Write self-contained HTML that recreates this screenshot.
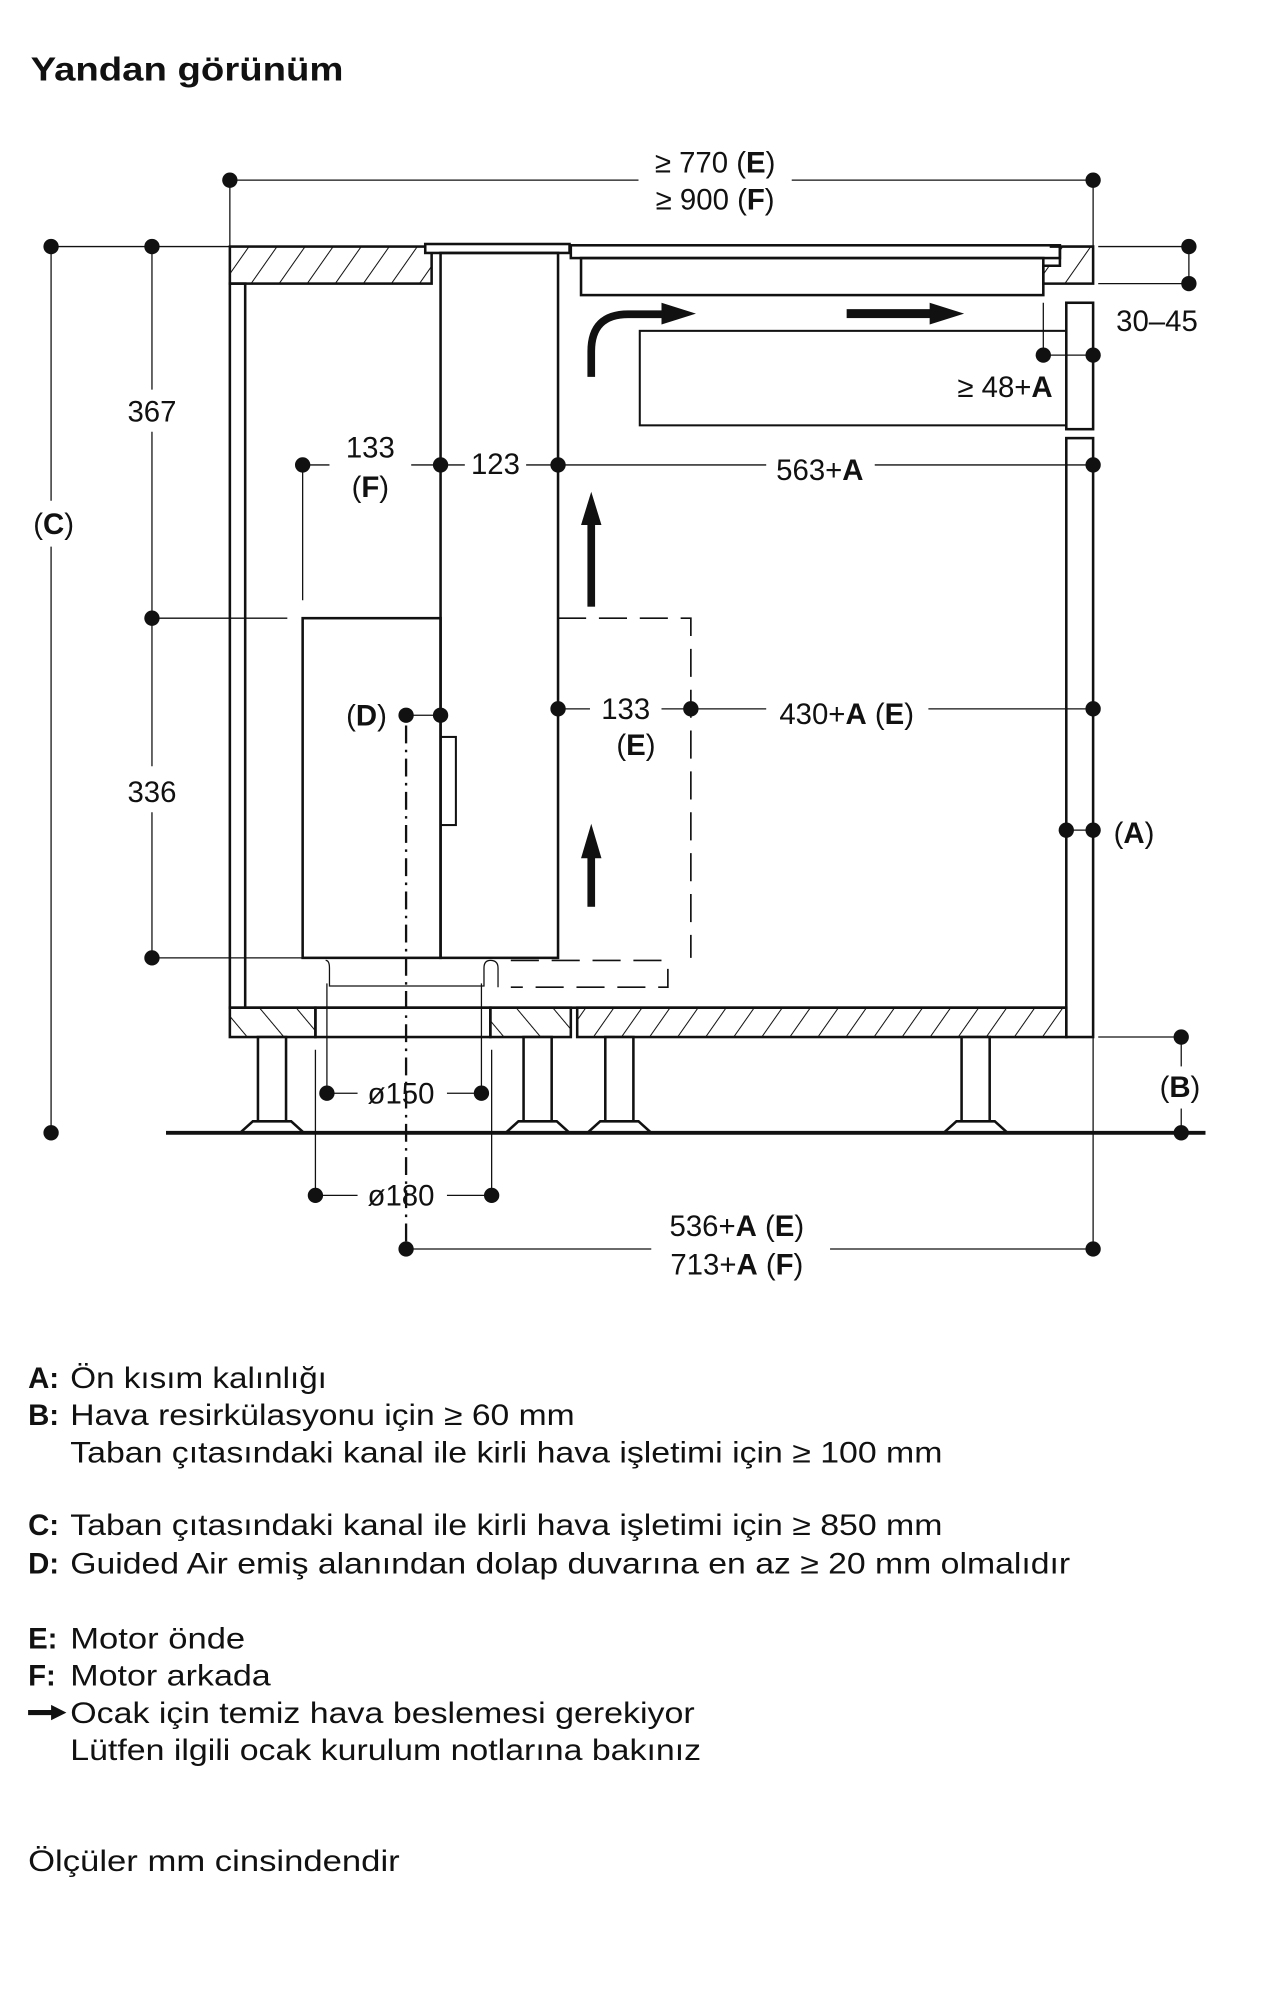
<!DOCTYPE html>
<html><head><meta charset="utf-8"><style>
html,body{margin:0;padding:0;background:#fff}
svg{display:block}
text{font-family:"Liberation Sans",sans-serif;fill:#111}
</style></head><body>
<svg width="1277" height="2000" viewBox="0 0 1000 1566" xmlns="http://www.w3.org/2000/svg">
<defs>
<pattern id="h1" patternUnits="userSpaceOnUse" width="18" height="18" patternTransform="rotate(35)"><line x1="0" y1="0" x2="0" y2="18" stroke="#111" stroke-width="1.6"/></pattern>
<pattern id="h2" patternUnits="userSpaceOnUse" width="22" height="22" patternTransform="rotate(-40)"><line x1="0" y1="0" x2="0" y2="22" stroke="#111" stroke-width="1.6"/></pattern>
</defs>
<text x="24" y="63" font-size="26" font-weight="bold" textLength="245" lengthAdjust="spacingAndGlyphs">Yandan görünüm</text>

<g stroke="#111" fill="none" stroke-width="1">
<!-- thin dimension lines -->
<line x1="180" y1="141" x2="500" y2="141"/><line x1="620" y1="141" x2="856" y2="141"/>
<line x1="180" y1="141" x2="180" y2="193"/><line x1="856" y1="141" x2="856" y2="193"/>
<line x1="40" y1="193" x2="180" y2="193"/><line x1="40" y1="193" x2="40" y2="392"/><line x1="40" y1="428" x2="40" y2="887"/>
<line x1="119" y1="193" x2="119" y2="305"/><line x1="119" y1="338" x2="119" y2="600"/><line x1="119" y1="636" x2="119" y2="750"/>
<line x1="119" y1="484" x2="225" y2="484"/><line x1="119" y1="750" x2="237" y2="750"/>
<line x1="237" y1="364" x2="237" y2="470"/><line x1="237" y1="364" x2="258" y2="364"/><line x1="322" y1="364" x2="364" y2="364"/><line x1="412" y1="364" x2="437" y2="364"/>
<line x1="437" y1="364" x2="600" y2="364"/><line x1="685" y1="364" x2="856" y2="364"/>
<line x1="318" y1="560" x2="345" y2="560"/>
<line x1="437" y1="555" x2="462" y2="555"/><line x1="518" y1="555" x2="600" y2="555"/><line x1="727" y1="555" x2="856" y2="555"/>
<line x1="835" y1="650" x2="856" y2="650"/>
<line x1="860" y1="193" x2="931" y2="193"/><line x1="860" y1="222" x2="931" y2="222"/><line x1="931" y1="193" x2="931" y2="222"/>
<line x1="817" y1="237" x2="817" y2="278"/><line x1="817" y1="278" x2="856" y2="278"/>
<line x1="860" y1="812" x2="925" y2="812"/><line x1="925" y1="812" x2="925" y2="835"/><line x1="925" y1="868" x2="925" y2="887"/>
<line x1="256" y1="770" x2="256" y2="856"/><line x1="377" y1="770" x2="377" y2="856"/>
<line x1="256" y1="856" x2="280" y2="856"/><line x1="350" y1="856" x2="377" y2="856"/>
<line x1="247" y1="822" x2="247" y2="936"/><line x1="385" y1="822" x2="385" y2="936"/>
<line x1="247" y1="936" x2="280" y2="936"/><line x1="350" y1="936" x2="385" y2="936"/>
<line x1="856" y1="812" x2="856" y2="978"/>
<line x1="318" y1="978" x2="510" y2="978"/><line x1="650" y1="978" x2="856" y2="978"/>
</g>
<!-- dash-dot centerline -->
<line x1="318" y1="568" x2="318" y2="978" stroke="#111" stroke-width="1.8" stroke-dasharray="14 5 2 5"/>

<!-- structure -->
<g stroke="#111" stroke-width="2" fill="none">
<rect x="180" y="193" width="158" height="29" fill="url(#h1)"/>
<rect x="333" y="191" width="113" height="7" fill="#fff"/>
<rect x="447" y="192" width="383" height="10" fill="#fff"/>
<rect x="455" y="202" width="362" height="29"/>
<path d="M822 193 H856 V222 H817 V208 H830 V193 Z" fill="url(#h1)"/>
<rect x="180" y="222" width="12" height="567"/>
<rect x="345" y="198" width="92" height="552"/>
<rect x="835" y="237" width="21" height="99"/>
<rect x="835" y="343" width="21" height="469"/>
<rect x="501" y="259" width="334" height="74" stroke-width="1.6"/>
<rect x="237" y="484" width="108" height="266"/>
<rect x="345" y="577" width="12" height="69" stroke-width="1.6"/>
<line x1="192" y1="789" x2="835" y2="789"/>
<rect x="180" y="789" width="67" height="23" fill="url(#h2)"/>
<rect x="247" y="789" width="137" height="23"/>
<rect x="384" y="789" width="63" height="23" fill="url(#h2)"/>
<rect x="452" y="789" width="383" height="23" fill="url(#h1)"/>
</g>
<!-- small duct under column -->
<g stroke="#111" stroke-width="1" fill="none">
<path d="M255 752 q3 0 3 6 V772 H379 V758 q0 -6 5 -6 q6 0 6 6 V773"/>
</g>
<g stroke="#111" stroke-width="1.3" fill="none" stroke-dasharray="22 10">
<path d="M437 484 H541 V750"/>
<path d="M400 752 H520 q3 0 3 6 V773 H400"/>
</g>
<!-- legs -->
<g stroke="#111" stroke-width="2" fill="#fff">
<g id="leg"><rect x="202" y="812" width="22" height="66"/><path d="M198 878 H228 L238 887 H188 Z"/></g>
<use href="#leg" x="208"/><use href="#leg" x="272"/><use href="#leg" x="551"/>
</g>
<line x1="130" y1="887" x2="944" y2="887" stroke="#111" stroke-width="3"/>

<!-- arrows -->
<g fill="#111">
<rect x="460" y="410" width="6" height="65"/><path d="M455 411 L463 385 L471 411 Z"/>
<rect x="460" y="670" width="6" height="40"/><path d="M455 672 L463 645 L471 672 Z"/>
<rect x="663" y="242" width="66" height="7"/><path d="M728 237 L755 245.5 L728 254 Z"/>
<path d="M518 237 L545 245.5 L518 254 Z"/>
</g>
<path d="M463 295 V275 Q463 246 492 246 H520" stroke="#111" stroke-width="6" fill="none"/>

<!-- dots -->
<g fill="#111">
<circle cx="180" cy="141" r="6"/><circle cx="856" cy="141" r="6"/>
<circle cx="40" cy="193" r="6"/><circle cx="40" cy="887" r="6"/>
<circle cx="119" cy="193" r="6"/><circle cx="119" cy="484" r="6"/><circle cx="119" cy="750" r="6"/>
<circle cx="237" cy="364" r="6"/><circle cx="345" cy="364" r="6"/><circle cx="437" cy="364" r="6"/><circle cx="856" cy="364" r="6"/>
<circle cx="318" cy="560" r="6"/><circle cx="345" cy="560" r="6"/>
<circle cx="437" cy="555" r="6"/><circle cx="541" cy="555" r="6"/><circle cx="856" cy="555" r="6"/>
<circle cx="835" cy="650" r="6"/><circle cx="856" cy="650" r="6"/>
<circle cx="931" cy="193" r="6"/><circle cx="931" cy="222" r="6"/>
<circle cx="817" cy="278" r="6"/><circle cx="856" cy="278" r="6"/>
<circle cx="925" cy="812" r="6"/><circle cx="925" cy="887" r="6"/>
<circle cx="256" cy="856" r="6"/><circle cx="377" cy="856" r="6"/>
<circle cx="247" cy="936" r="6"/><circle cx="385" cy="936" r="6"/>
<circle cx="318" cy="978" r="6"/><circle cx="856" cy="978" r="6"/>
</g>

<!-- labels -->
<g font-size="23" text-anchor="middle">
<text x="560" y="135">≥ 770 (<tspan font-weight="bold">E</tspan>)</text>
<text x="560" y="164">≥ 900 (<tspan font-weight="bold">F</tspan>)</text>
<text x="42" y="418">(<tspan font-weight="bold">C</tspan>)</text>
<text x="119" y="330">367</text>
<text x="119" y="628">336</text>
<text x="290" y="358">133</text>
<text x="290" y="389">(<tspan font-weight="bold">F</tspan>)</text>
<text x="388" y="371">123</text>
<text x="642" y="376">563+<tspan font-weight="bold">A</tspan></text>
<text x="287" y="568">(<tspan font-weight="bold">D</tspan>)</text>
<text x="490" y="563">133</text>
<text x="498" y="591">(<tspan font-weight="bold">E</tspan>)</text>
<text x="663" y="567">430+<tspan font-weight="bold">A</tspan> (<tspan font-weight="bold">E</tspan>)</text>
<text x="888" y="660">(<tspan font-weight="bold">A</tspan>)</text>
<text x="906" y="259">30–45</text>
<text x="787" y="311">≥ 48+<tspan font-weight="bold">A</tspan></text>
<text x="924" y="859">(<tspan font-weight="bold">B</tspan>)</text>
<text x="314" y="864">ø150</text>
<text x="314" y="944">ø180</text>
<text x="577" y="968">536+<tspan font-weight="bold">A</tspan> (<tspan font-weight="bold">E</tspan>)</text>
<text x="577" y="998">713+<tspan font-weight="bold">A</tspan> (<tspan font-weight="bold">F</tspan>)</text>
</g>

<!-- legend -->
<g font-size="23">
<text x="22" y="1087" font-weight="bold">A:</text><text x="55" y="1087" textLength="201" lengthAdjust="spacingAndGlyphs">Ön kısım kalınlığı</text>
<text x="22" y="1116" font-weight="bold">B:</text><text x="55" y="1116" textLength="395" lengthAdjust="spacingAndGlyphs">Hava resirkülasyonu için ≥ 60 mm</text>
<text x="55" y="1145" textLength="683" lengthAdjust="spacingAndGlyphs">Taban çıtasındaki kanal ile kirli hava işletimi için ≥ 100 mm</text>
<text x="22" y="1202" font-weight="bold">C:</text><text x="55" y="1202" textLength="683" lengthAdjust="spacingAndGlyphs">Taban çıtasındaki kanal ile kirli hava işletimi için ≥ 850 mm</text>
<text x="22" y="1232" font-weight="bold">D:</text><text x="55" y="1232" textLength="783" lengthAdjust="spacingAndGlyphs">Guided Air emiş alanından dolap duvarına en az ≥ 20 mm olmalıdır</text>
<text x="22" y="1291" font-weight="bold">E:</text><text x="55" y="1291" textLength="137" lengthAdjust="spacingAndGlyphs">Motor önde</text>
<text x="22" y="1320" font-weight="bold">F:</text><text x="55" y="1320" textLength="157" lengthAdjust="spacingAndGlyphs">Motor arkada</text>
<text x="55" y="1349" textLength="489" lengthAdjust="spacingAndGlyphs">Ocak için temiz hava beslemesi gerekiyor</text>
<text x="55" y="1378" textLength="494" lengthAdjust="spacingAndGlyphs">Lütfen ilgili ocak kurulum notlarına bakınız</text>
<text x="22" y="1465" textLength="291" lengthAdjust="spacingAndGlyphs">Ölçüler mm cinsindendir</text>
</g>
<rect x="22" y="1339" width="20" height="4" fill="#111"/><path d="M40 1335 L52 1341 L40 1347 Z" fill="#111"/>
</svg>
</body></html>
